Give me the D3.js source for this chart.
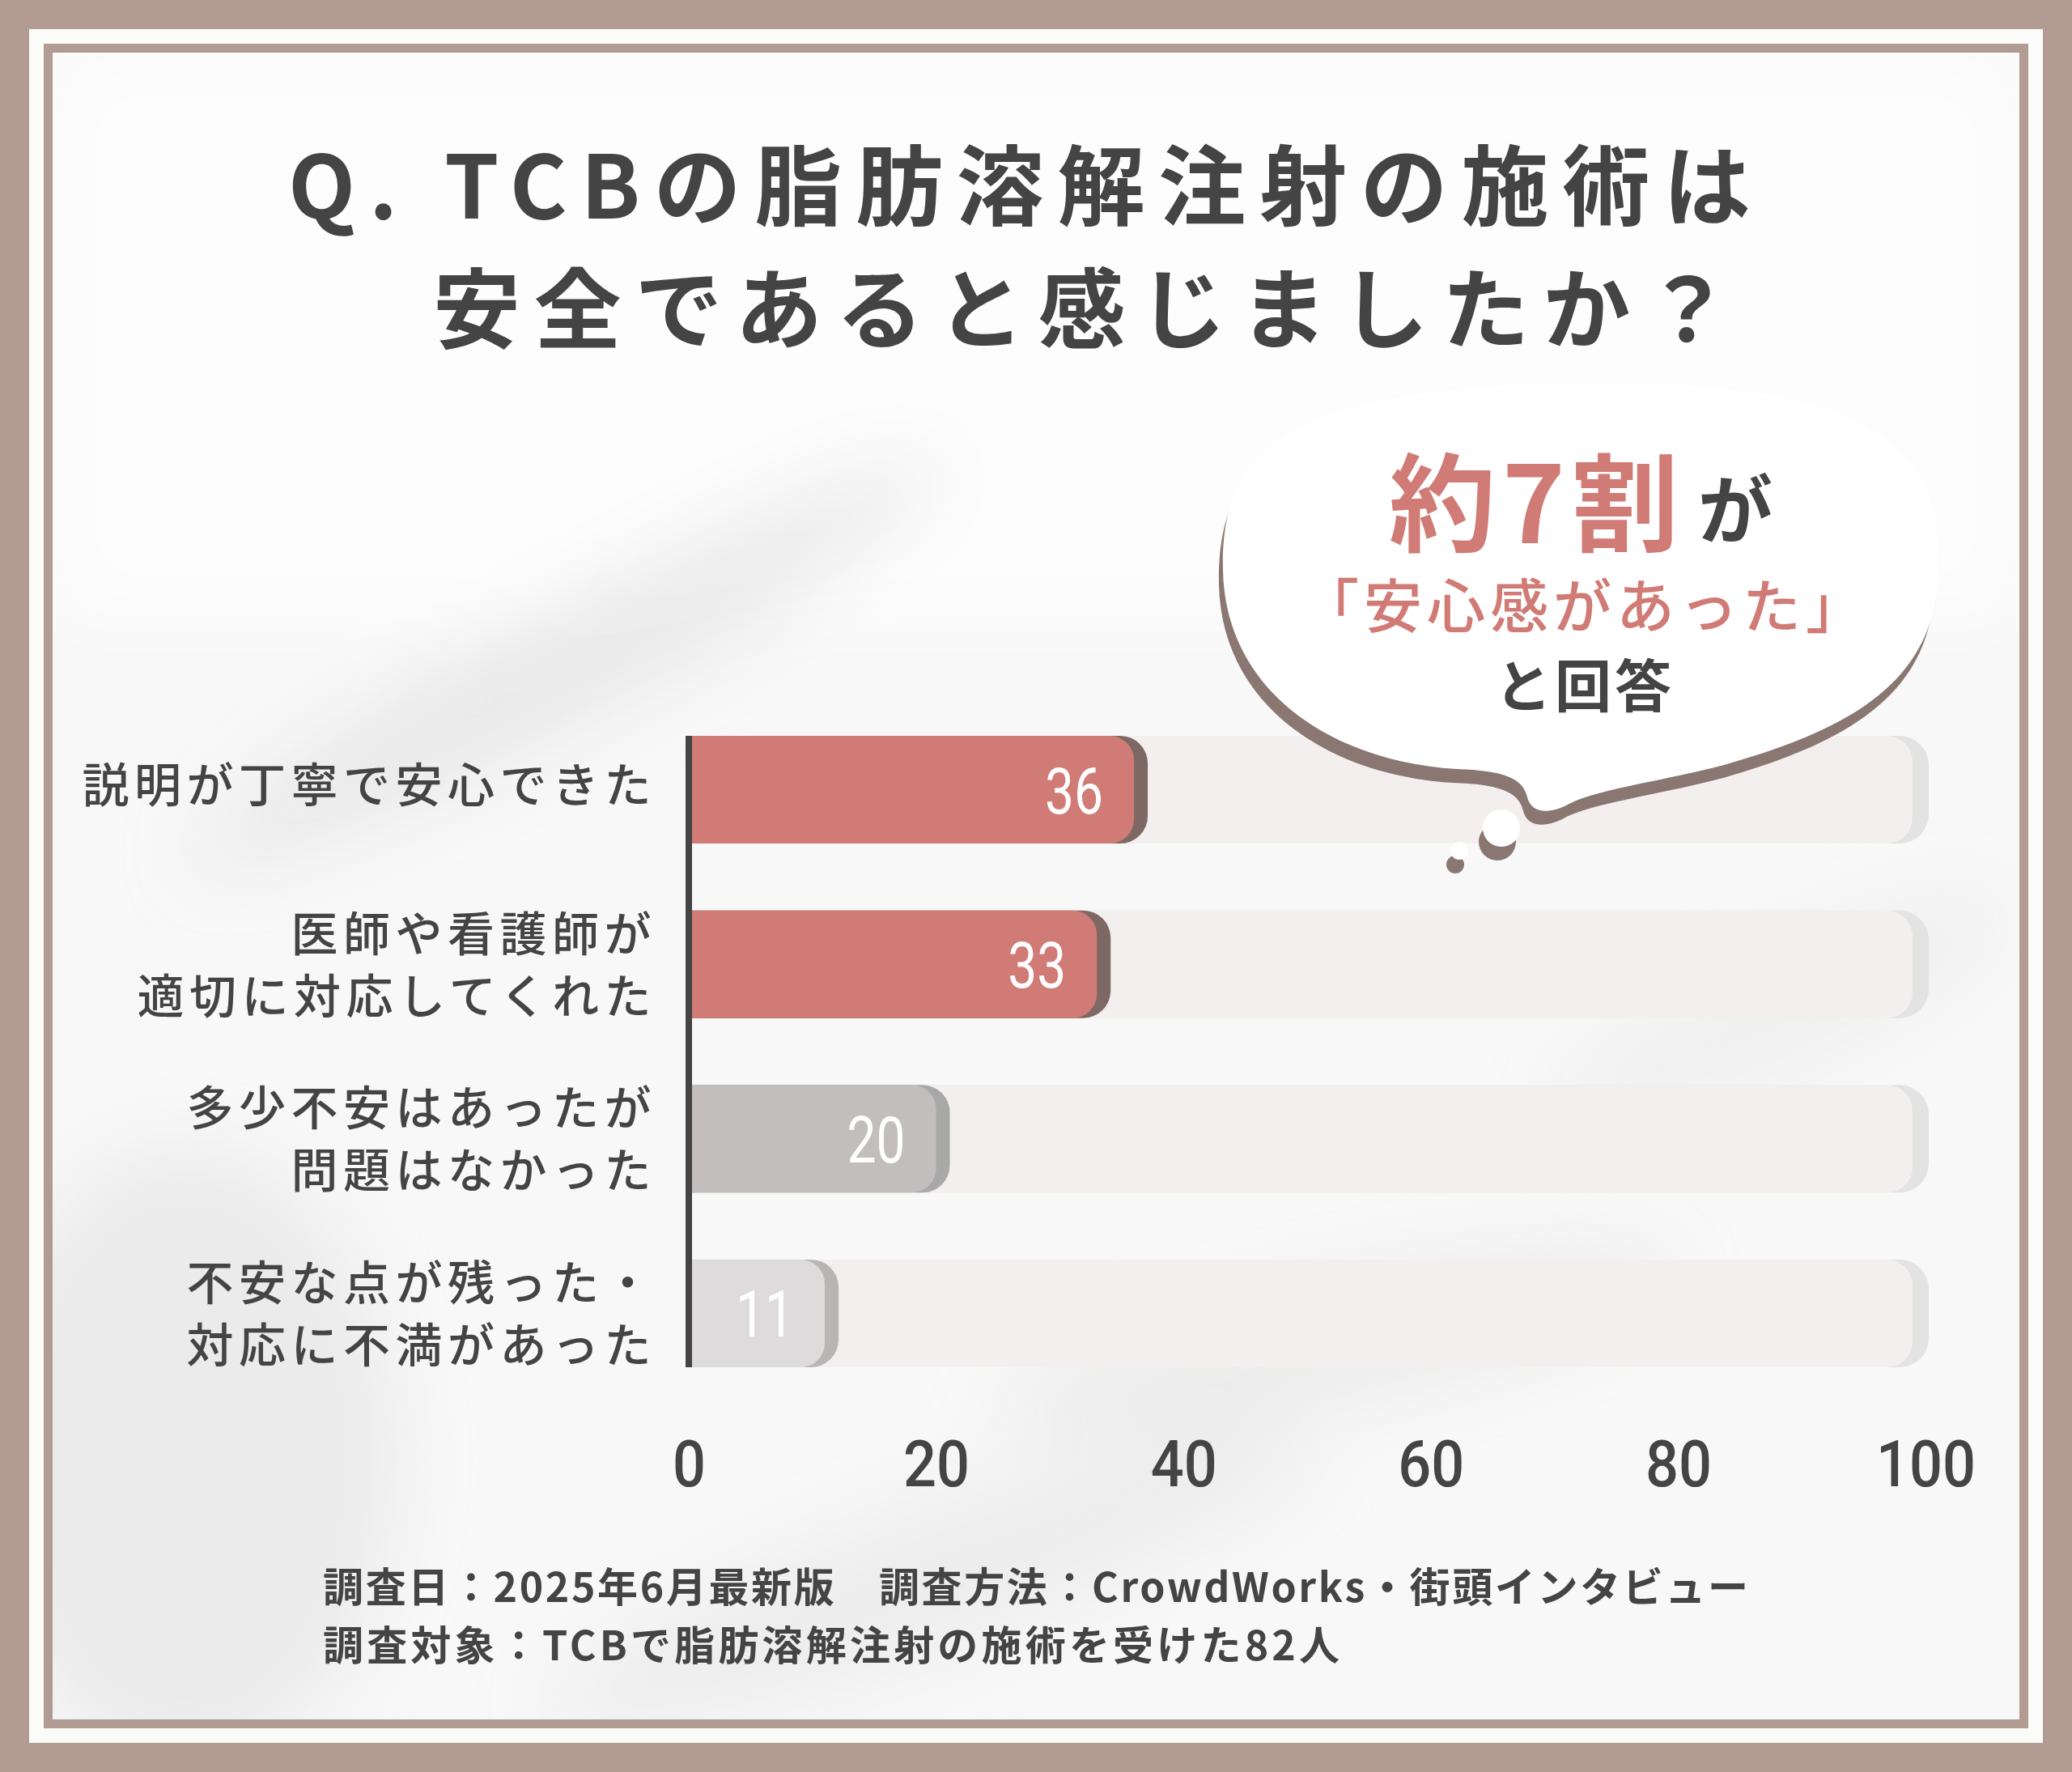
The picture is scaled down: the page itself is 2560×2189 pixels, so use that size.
<!DOCTYPE html>
<html>
<head>
<meta charset="utf-8">
<script src="https://cdn.jsdelivr.net/npm/d3@7"></script>
<style>
  html, body { margin: 0; padding: 0; background: #b29b92; }
  svg { display: block; }
</style>
</head>
<body>
<svg id="chart"></svg>
<script>
const W = 2560;
const H = 2189;

// chart data
const categories = [
  "説明が丁寧で安心できた",
  "医師や看護師が\n適切に対応してくれた",
  "多少不安はあったが\n問題はなかった",
  "不安な点が残った・\n対応に不満があった"
];
const values = [36, 33, 20, 11];
const xTicks = [0, 20, 40, 60, 80, 100];
const xMax = 100;

// texts
const titleLines = ["Q. TCBの脂肪溶解注射の施術は", "安全であると感じましたか？"];
const calloutBig = "約7割";
const calloutSmall = "が";
const calloutLines = ["「安心感があった」", "と回答"];
const noteLines = [
  "調査日：2025年6月最新版　調査方法：CrowdWorks・街頭インタビュー",
  "調査対象：TCBで脂肪溶解注射の施術を受けた82人"
];

const palette = {
  frame: "#b29b92",
  ink: "#444444",
  pink: "#d07b75",
  barFill: ["#d07b75", "#d07b75", "#c2bebd", "#dddbdb"],
  barEdge: ["#7e6863", "#7e6863", "#a9a8a8", "#b9b5b5"],
  track: "#f3efee",
  trackEdge: "#e4e3e3",
  bubbleShadow: "#8a7771"
};

const JP = "'Noto Sans CJK JP', 'Noto Sans', sans-serif";
const NUM = "Roboto, 'Noto Sans', sans-serif";

const svg = d3.select("#chart")
  .attr("width", W)
  .attr("height", H)
  .attr("viewBox", `0 0 ${W} ${H}`);

const defs = svg.append("defs");
defs.append("filter").attr("id", "soft")
  .attr("x", "-50%").attr("y", "-50%").attr("width", "200%").attr("height", "200%")
  .append("feGaussianBlur").attr("stdDeviation", 45);
defs.append("clipPath").attr("id", "inner")
  .append("rect").attr("x", 65).attr("y", 65).attr("width", 2430).attr("height", 2059);

// frame + card
svg.append("rect").attr("width", W).attr("height", H).attr("fill", palette.frame);
svg.append("rect").attr("x", 36).attr("y", 36).attr("width", 2488).attr("height", 2117).attr("fill", "#fbfbfa");
svg.append("rect")
  .attr("x", 59.5).attr("y", 59.5).attr("width", 2441).attr("height", 2070)
  .attr("fill", "#f8f8f8").attr("stroke", palette.frame).attr("stroke-width", 11);

// marble-ish background smudges
const tex = svg.append("g").attr("clip-path", "url(#inner)").attr("filter", "url(#soft)");
tex.append("rect").attr("x", 65).attr("y", 65).attr("width", 2430).attr("height", 700).attr("fill", "#ffffff").attr("opacity", 0.7);
tex.append("ellipse").attr("cx", 700).attr("cy", 820).attr("rx", 520).attr("ry", 70)
  .attr("transform", "rotate(-28 700 820)").attr("fill", "#dcdcdc").attr("opacity", 0.55);
tex.append("ellipse").attr("cx", 230).attr("cy", 1800).attr("rx", 260).attr("ry", 380)
  .attr("fill", "#e2e2e2").attr("opacity", 0.6);
tex.append("ellipse").attr("cx", 1650).attr("cy", 1660).attr("rx", 420).attr("ry", 70)
  .attr("transform", "rotate(-12 1650 1660)").attr("fill", "#e0e0e0").attr("opacity", 0.5);
tex.append("ellipse").attr("cx", 1150).attr("cy", 1950).attr("rx", 500).attr("ry", 90)
  .attr("transform", "rotate(-20 1150 1950)").attr("fill", "#e4e4e4").attr("opacity", 0.5);
tex.append("ellipse").attr("cx", 2200).attr("cy", 1250).attr("rx", 300).attr("ry", 60)
  .attr("transform", "rotate(-25 2200 1250)").attr("fill", "#e6e6e6").attr("opacity", 0.5);

// title
const titleBaselines = [270, 422];
const titleX = [[356, 1807], [535, 1604]];
svg.append("g").selectAll("text")
  .data(titleLines)
  .join("text")
  .attr("x", (d, i) => titleX[i][0])
  .attr("y", (d, i) => titleBaselines[i])
  .attr("textLength", (d, i) => titleX[i][1])
  .attr("lengthAdjust", "spacing")
  .attr("font-family", JP)
  .attr("font-weight", 700)
  .attr("font-size", 108)
  .attr("fill", palette.ink)
  .text(d => d);

// scales
const x = d3.scaleLinear().domain([0, xMax]).range([851, 2379]);
const y = d3.scaleBand().domain(categories).range([909, 1689]).paddingInner(0.383).paddingOuter(0);
const bw = y.bandwidth();
const x0 = x(0) + 4;

function roundEnd(xa, xb, top, h, r) {
  return `M${xa},${top}H${xb - r}A${r},${r} 0 0 1 ${xb},${top + r}V${top + h - r}A${r},${r} 0 0 1 ${xb - r},${top + h}H${xa}Z`;
}

// background tracks
const tracks = svg.append("g");
tracks.selectAll("path.edge")
  .data(categories).join("path").attr("class", "edge")
  .attr("d", c => roundEnd(x0, x(xMax) + 4, y(c), bw, 36))
  .attr("fill", palette.trackEdge);
tracks.selectAll("path.main")
  .data(categories).join("path").attr("class", "main")
  .attr("d", c => roundEnd(x0, x(xMax) - 16, y(c), bw, 32))
  .attr("fill", palette.track);

// bars
const rows = categories.map((c, i) => ({ c, v: values[i], i }));
const bars = svg.append("g");
bars.selectAll("path.edge")
  .data(rows).join("path").attr("class", "edge")
  .attr("d", d => roundEnd(x0, x(d.v) + 17, y(d.c), bw, 34))
  .attr("fill", d => palette.barEdge[d.i]);
bars.selectAll("path.main")
  .data(rows).join("path").attr("class", "main")
  .attr("d", d => roundEnd(x0, x(d.v), y(d.c), bw, 30))
  .attr("fill", d => palette.barFill[d.i]);

bars.selectAll("text")
  .data(rows).join("text")
  .attr("x", d => x(d.v) - 38)
  .attr("y", d => y(d.c) + bw / 2 + 29)
  .attr("text-anchor", "end")
  .attr("textLength", d => String(d.v).length * 36)
  .attr("lengthAdjust", "spacingAndGlyphs")
  .attr("font-family", NUM)
  .attr("font-size", 80)
  .attr("fill", "#ffffff")
  .text(d => d.v);

// category labels
const labels = svg.append("g")
  .attr("font-family", JP)
  .attr("font-weight", 500)
  .attr("font-size", 58)
  .attr("letter-spacing", 6.5)
  .attr("fill", palette.ink)
  .attr("text-anchor", "end");
categories.forEach(c => {
  const parts = c.split("\n");
  const mid = y(c) + bw / 2 + (parts.length === 1 ? -7 : 0);
  parts.forEach((p, j) => {
    labels.append("text")
      .attr("x", 811)
      .attr("y", mid + (j - (parts.length - 1) / 2) * 77 + 22)
      .text(p);
  });
});

// axis line
svg.append("line")
  .attr("x1", x(0)).attr("x2", x(0))
  .attr("y1", 909).attr("y2", 1689)
  .attr("stroke", palette.ink).attr("stroke-width", 8);

// x axis labels
const xAxis = d3.axisBottom(x).tickValues(xTicks).tickSize(0).tickPadding(0);
const gx = svg.append("g").attr("transform", "translate(0,1836)").call(xAxis);
gx.select(".domain").remove();
gx.attr("font-family", NUM).attr("font-size", 80);
gx.selectAll("text")
  .attr("y", 0).attr("dy", 0)
  .attr("fill", palette.ink)
  .attr("font-weight", 500)
  .attr("textLength", d => String(d).length * 41)
  .attr("lengthAdjust", "spacingAndGlyphs");

// speech bubble
const bubblePath = "M1511,705 C1508,560 1580,478 1955,474 C2330,470 2398,560 2395,705 " +
  "C2392,840 2290,900 2130,945 C2050,966 1970,975 1935,995 C1912,1006 1892,1004 1887,985 " +
  "C1882,962 1860,952 1800,950 C1640,940 1514,850 1511,705 Z";
const dots = [[1855, 1023, 23], [1803, 1051, 11]];
const bubble = svg.append("g");
const sh = bubble.append("g").attr("transform", "translate(-5,17)").attr("fill", palette.bubbleShadow);
sh.append("path").attr("d", bubblePath);
sh.selectAll("circle").data(dots).join("circle")
  .attr("cx", d => d[0]).attr("cy", d => d[1]).attr("r", d => d[2]);
bubble.append("path").attr("d", bubblePath).attr("fill", "#ffffff");
bubble.selectAll("circle.dot").data(dots).join("circle").attr("class", "dot")
  .attr("cx", d => d[0]).attr("cy", d => d[1]).attr("r", d => d[2]).attr("fill", "#ffffff");

bubble.append("text")
  .attr("x", 1716).attr("y", 671)
  .attr("textLength", 358).attr("lengthAdjust", "spacing")
  .attr("font-family", JP).attr("font-weight", 700).attr("font-size", 132)
  .attr("fill", palette.pink)
  .text(calloutBig);
bubble.append("text")
  .attr("x", 2098).attr("y", 664)
  .attr("font-family", JP).attr("font-weight", 700).attr("font-size", 92)
  .attr("fill", palette.ink)
  .text(calloutSmall);
bubble.append("text")
  .attr("x", 1958).attr("y", 775)
  .attr("text-anchor", "middle")
  .attr("letter-spacing", 6)
  .attr("font-family", JP).attr("font-weight", 500).attr("font-size", 72)
  .attr("fill", palette.pink)
  .text(calloutLines[0]);
bubble.append("text")
  .attr("x", 1958).attr("y", 874)
  .attr("text-anchor", "middle")
  .attr("letter-spacing", 4)
  .attr("font-family", JP).attr("font-weight", 700).attr("font-size", 70)
  .attr("fill", palette.ink)
  .text(calloutLines[1]);

// footnote
const noteLen = [1761, 1256];
const noteBase = [1979, 2051];
svg.append("g").selectAll("text")
  .data(noteLines).join("text")
  .attr("x", 399)
  .attr("y", (d, i) => noteBase[i])
  .attr("textLength", (d, i) => noteLen[i])
  .attr("lengthAdjust", "spacing")
  .attr("font-family", JP)
  .attr("font-weight", 700)
  .attr("font-size", 50)
  .attr("fill", palette.ink)
  .text(d => d);
</script>
</body>
</html>
